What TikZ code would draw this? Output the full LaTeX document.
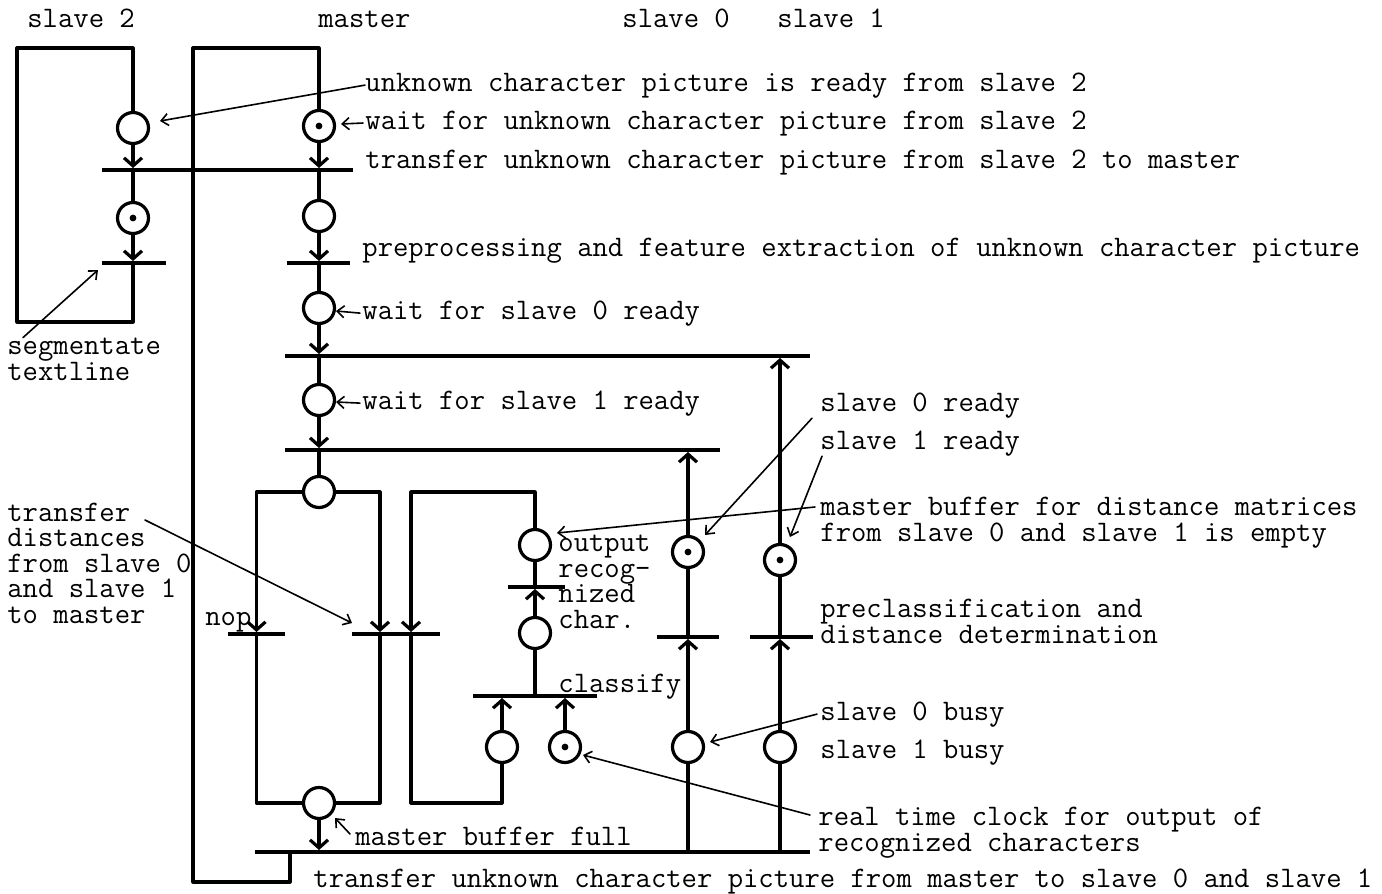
\documentclass[tikz,border=0pt]{standalone}
\usepackage{fontspec}
\usetikzlibrary{arrows.meta}
\begin{document}
\begin{tikzpicture}[x=0.5pt,y=-0.5pt,line cap=round,line join=round,
  net/.style={line width=1.6pt},
  arc/.style={net,-{Straight Barb[length=4pt,width=9pt]}},
  note/.style={line width=0.8pt,-{Straight Barb[length=3.5pt,width=6pt]}},
  place/.style={circle,draw,line width=1.6pt,minimum size=15.5pt,inner sep=0pt},
  token/.style={place,path picture={\fill (path picture bounding box.center) circle (1.7pt);}},
  trans/.style={fill,inner sep=0pt,minimum height=1.6pt,minimum width=#1*0.5pt},
  lbl/.style={anchor=base west,inner sep=0pt,align=left,
    font=\ttfamily\fontsize{14.9}{12.75}\selectfont}]
  \useasboundingbox (0,0) rectangle (1382,894);
  % places
  \node[place] (s2a) at (133,128) {};
  \node[token] (s2b) at (133,218) {};
  \node[token] (m1) at (319,126) {};
  \node[place] (m2) at (319,216) {};
  \node[place] (m3) at (319,308) {};
  \node[place] (m4) at (319,400) {};
  \node[place] (m5) at (319,492) {};
  \node[place] (m6) at (319,803) {};
  \node[place] (o1) at (535,545) {};
  \node[place] (o2) at (535,633) {};
  \node[place] (c1) at (502,747) {};
  \node[token] (c2) at (565,747) {};
  \node[token] (a1) at (688,552) {};
  \node[place] (a2) at (688,747) {};
  \node[token] (b1) at (780,560) {};
  \node[place] (b2) at (780,747) {};
  % transitions
  \node[trans=251] (tpic) at (227.5,170) {};
  \node[trans=64] (tseg) at (134,263) {};
  \node[trans=63] (tpre) at (318.5,263) {};
  \node[trans=525] (tw0) at (547.5,356) {};
  \node[trans=435] (tw1) at (502.5,450) {};
  \node[trans=57] (tnop) at (256.5,634) {};
  \node[trans=88] (tdist) at (396,634) {};
  \node[trans=57] (tout) at (536.5,587) {};
  \node[trans=124] (tcls) at (535,696) {};
  \node[trans=62] (tpc0) at (688,637) {};
  \node[trans=63] (tpc1) at (781.5,637) {};
  \node[trans=555] (tsend) at (532.5,852) {};
  \coordinate (s2top) at (133,48);
  \coordinate (s2bot) at (17,322);
  \coordinate (mtop) at (319,48);
  \coordinate (mbot) at (193,882);
  \coordinate (msend) at (290,852);
  % slave 2
  \draw[arc] (s2a) -- (s2a |- tpic.north);
  \draw[net] (s2a |- tpic.south) -- (s2b);
  \draw[arc] (s2b) -- (s2b |- tseg.north);
  \draw[net] (s2b |- tseg.south) |- (s2bot) |- (s2top) -- (s2a);
  % master
  \draw[net] (msend) |- (mbot) |- (mtop) -- (m1);
  \draw[arc] (m1) -- (m1 |- tpic.north);
  \draw[net] (m1 |- tpic.south) -- (m2);
  \draw[arc] (m2) -- (m2 |- tpre.north);
  \draw[net] (m2 |- tpre.south) -- (m3);
  \draw[arc] (m3) -- (m3 |- tw0.north);
  \draw[net] (m3 |- tw0.south) -- (m4);
  \draw[arc] (m4) -- (m4 |- tw1.north);
  \draw[net] (m4 |- tw1.south) -- (m5);
  \draw[arc] (m5.west) -| (tnop.north);
  \draw[arc] (m5.east) -| ([xshift=-8pt]tdist.north);
  \draw[arc] (o1) |- ([xshift=7.5pt]tdist.north |- m5) -- ([xshift=7.5pt]tdist.north);
  \draw[net] (tnop.south) |- (m6);
  \draw[net] ([xshift=-8pt]tdist.south) |- (m6);
  \draw[net] ([xshift=7.5pt]tdist.south) |- (c1 |- m6) -- (c1);
  \draw[arc] (c1) -- (c1 |- tcls.south);
  \draw[arc] (c2) -- (c2 |- tcls.south);
  \draw[net] (tcls.north) -- (o2);
  \draw[arc] (o2) -- (o2 |- tout.south);
  \draw[net] (o2 |- tout.north) -- (o1);
  \draw[arc] (m6) -- (m6 |- tsend.north);
  % slaves 0 and 1
  \draw[net] (a2 |- tsend.north) -- (a2);
  \draw[arc] (a2) -- (tpc0.south);
  \draw[net] (tpc0.north) -- (a1);
  \draw[arc] (a1) -- (a1 |- tw1.south);
  \draw[net] (b2 |- tsend.north) -- (b2);
  \draw[arc] (b2) -- (b2 |- tpc1.south);
  \draw[net] (b2 |- tpc1.north) -- (b1);
  \draw[arc] (b1) -- (b1 |- tw0.south);
  % texts
  \node[lbl] (hs2) at (27,27) {slave 2};
  \node[lbl] (hm) at (318,27) {master};
  \node[lbl] (h0) at (622,27) {slave 0};
  \node[lbl] (h1) at (777,27) {slave 1};
  \node[lbl] (lready) at (365,91) {unknown character picture is ready from slave 2};
  \node[lbl] (lwait) at (365,129) {wait for unknown character picture from slave 2};
  \node[lbl] (ltr2) at (365,168) {transfer unknown character picture from slave 2 to master};
  \node[lbl] (lpre) at (362,256) {preprocessing and feature extraction of unknown character picture};
  \node[lbl] (lw0) at (362,319) {wait for slave 0 ready};
  \node[lbl] (lw1) at (362,409) {wait for slave 1 ready};
  \node[lbl] (l0r) at (820,411) {slave 0 ready};
  \node[lbl] (l1r) at (820,449) {slave 1 ready};
  \node[lbl] (lbuf) at (820,541) {master buffer for distance matrices\\from slave 0 and slave 1 is empty};
  \node[lbl] (lseg) at (7,380) {segmentate\\textline};
  \node[lbl] (ldist) at (7,623) {transfer\\distances\\from slave 0\\and slave 1\\to master};
  \node[lbl] (lnop) at (205,625) {nop};
  \node[lbl] (lout) at (558,628) {output\\recog-\\nized\\char.};
  \node[lbl] (lcls) at (558,692) {classify};
  \node[lbl] (lpc) at (820,643) {preclassification and\\distance determination};
  \node[lbl] (lb0) at (820,720) {slave 0 busy};
  \node[lbl] (lb1) at (820,758) {slave 1 busy};
  \node[lbl] (lclk) at (818,851) {real time clock for output of\\recognized characters};
  \node[lbl] (lfull) at (355,845) {master buffer full};
  \node[lbl] (lsend) at (313,887) {transfer unknown character picture from master to slave 0 and slave 1};
  % pointers
  \coordinate (pready) at (160,121);
  \coordinate (pwait) at (341,124);
  \coordinate (pw0) at (336,311);
  \coordinate (pw1) at (336,402);
  \coordinate (pseg) at (98,270);
  \coordinate (qdist) at (145,520);
  \coordinate (pdist) at (352,623);
  \coordinate (p0r) at (705,535);
  \coordinate (p1r) at (790,537);
  \coordinate (pbuf) at (557,533);
  \coordinate (pb0) at (710,742);
  \coordinate (pclk) at (583,755);
  \coordinate (pfull) at (335,818);
  \draw[note] (lready.west) -- (pready);
  \draw[note] ([xshift=-1pt]lwait.west) -- (pwait);
  \draw[note] ([xshift=-1pt]lw0.west) -- (pw0);
  \draw[note] ([xshift=-1pt]lw1.west) -- (pw1);
  \draw[note] ([xshift=8pt]lseg.north west) -- (pseg);
  \draw[note] (qdist) -- (pdist);
  \draw[note] ([xshift=-4pt]l0r.south west) -- (p0r);
  \draw[note] ([xshift=1pt]l1r.south west) -- (p1r);
  \draw[note] ([shift={(-2.5pt,17pt)}]lbuf.base west) -- (pbuf);
  \draw[note] ([xshift=-1.5pt]lb0.west) -- (pb0);
  \draw[note] ([shift={(-4pt,18pt)}]lclk.base west) -- (pclk);
  \draw[note] ([shift={(-2.5pt,5.5pt)}]lfull.base west) -- (pfull);
\end{tikzpicture}
\end{document}
